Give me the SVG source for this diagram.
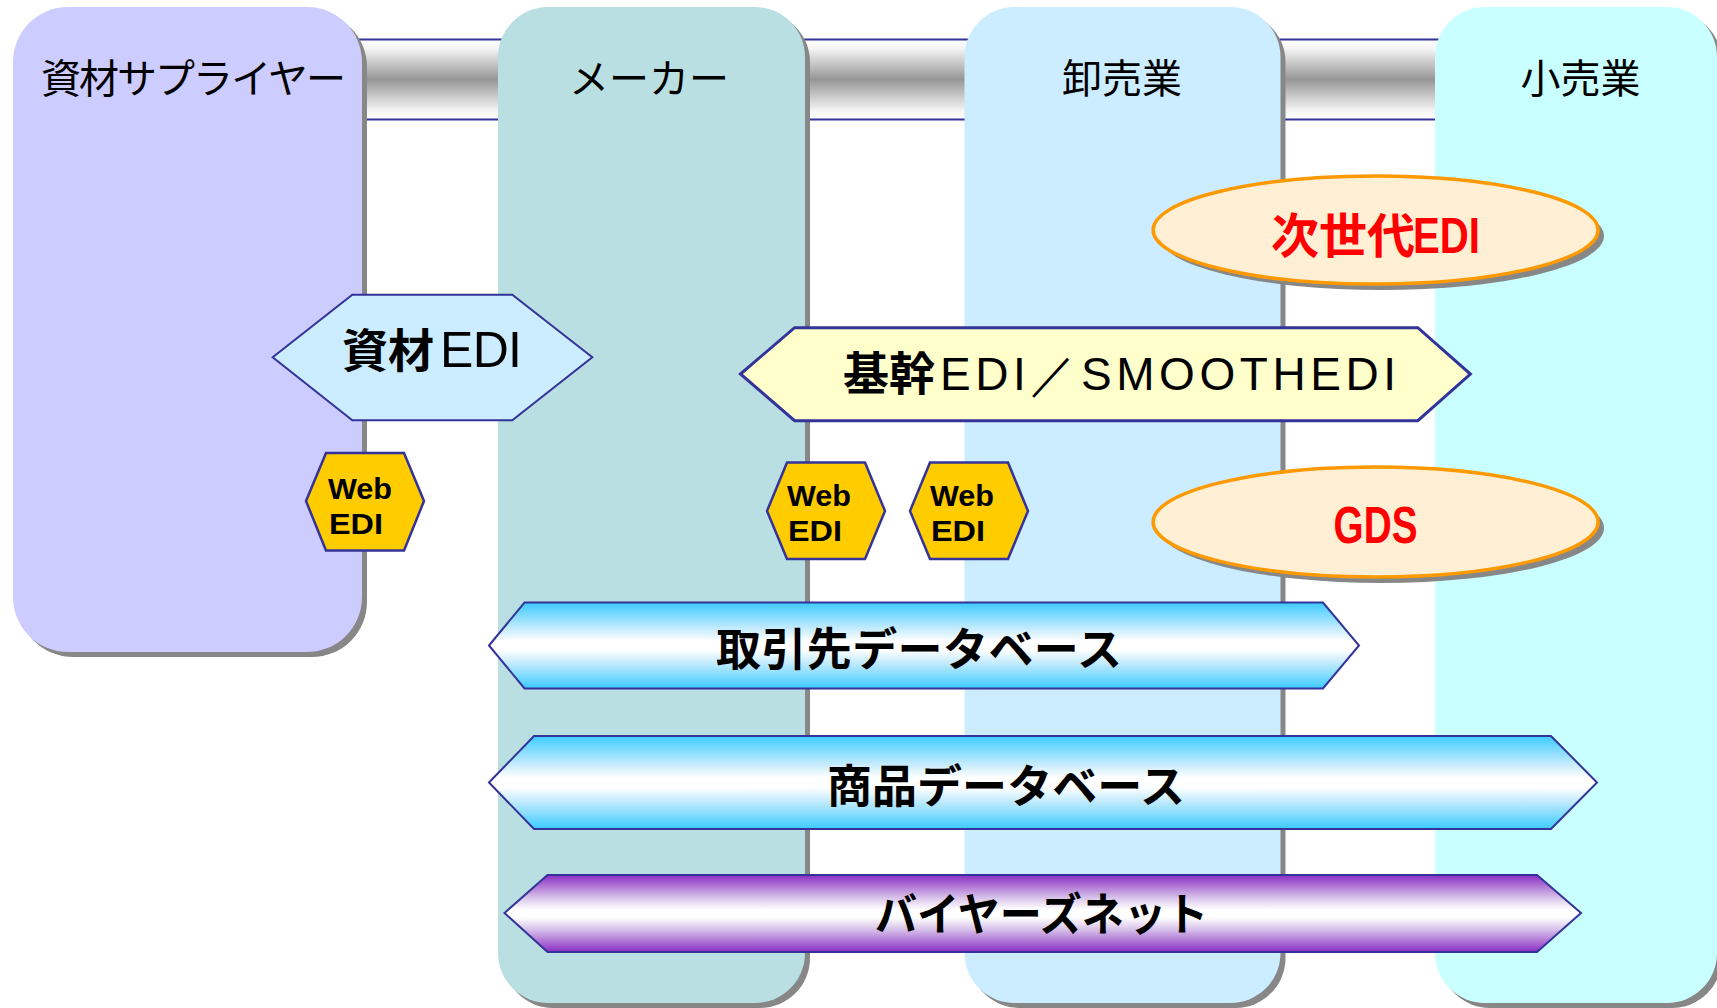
<svg xmlns="http://www.w3.org/2000/svg" width="1717" height="1008" viewBox="0 0 1717 1008">
<defs>
<linearGradient id="gBar" x1="0" y1="0" x2="0" y2="1">
<stop offset="0" stop-color="#ffffff"/><stop offset="0.12" stop-color="#f4f4f4"/><stop offset="0.5" stop-color="#969696"/><stop offset="0.88" stop-color="#f4f4f4"/><stop offset="1" stop-color="#ffffff"/>
</linearGradient>
<linearGradient id="gBlue" x1="0" y1="0" x2="0" y2="1">
<stop offset="0" stop-color="#3CCBFF"/><stop offset="0.3" stop-color="#C4EBFD"/><stop offset="0.45" stop-color="#ffffff"/><stop offset="0.55" stop-color="#ffffff"/><stop offset="0.7" stop-color="#C4EBFD"/><stop offset="1" stop-color="#3CCBFF"/>
</linearGradient>
<linearGradient id="gPurple" x1="0" y1="0" x2="0" y2="1">
<stop offset="0" stop-color="#8A2EC4"/><stop offset="0.3" stop-color="#D9C4EA"/><stop offset="0.45" stop-color="#ffffff"/><stop offset="0.55" stop-color="#ffffff"/><stop offset="0.7" stop-color="#D9C4EA"/><stop offset="1" stop-color="#8A2EC4"/>
</linearGradient>
</defs>
<style>
.shadow{fill:#878787}
.hdr{font-family:"Noto Sans CJK JP",sans-serif;font-size:40px;fill:#000;text-anchor:middle}
.hex{stroke:#333399;stroke-width:2}
.web{fill:#FFCC00;stroke:#333399;stroke-width:2.5}
.webt{font-family:"Liberation Sans",Arial,sans-serif;font-weight:bold;font-size:30px;fill:#000}
.ell{fill:#FFF0D5;stroke:#FF9900;stroke-width:3.5}
.red{fill:#FF0000;font-weight:bold}
.cjkb{font-family:"Noto Sans CJK JP",sans-serif;font-weight:bold}
.lat{font-family:"Liberation Sans",Arial,sans-serif}
.db{stroke:#333399;stroke-width:2}
.dbt{font-family:"Noto Sans CJK JP",sans-serif;font-weight:bold;font-size:45px;fill:#000}
</style>

<g id="bar">
<rect x="300" y="39" width="1200" height="81" fill="url(#gBar)"/>
<line x1="300" y1="39.5" x2="1500" y2="39.5" stroke="#333399" stroke-width="2"/>
<line x1="300" y1="119.5" x2="1500" y2="119.5" stroke="#333399" stroke-width="2"/>
</g>

<g id="col-supplier">
<rect class="shadow" x="18" y="12" width="349" height="645" rx="55"/>
<rect x="13" y="7" width="349" height="645" rx="55" fill="#CCCCFF"/>
<text class="hdr" x="41" y="93" font-size="39" style="text-anchor:start" textLength="305">資材サプライヤー</text>
</g>
<g id="col-maker">
<rect class="shadow" x="503" y="12" width="307" height="996" rx="50"/>
<rect x="498" y="7" width="307" height="996" rx="50" fill="#B9DFE3"/>
<text class="hdr" x="649" y="93" font-size="38">メーカー</text>
</g>
<g id="col-wholesale">
<rect class="shadow" x="969.5" y="12" width="316" height="996" rx="50"/>
<rect x="964.5" y="7" width="316" height="996" rx="50" fill="#CCECFF"/>
<text class="hdr" x="1122" y="93" font-size="41">卸売業</text>
</g>
<g id="col-retail">
<rect class="shadow" x="1440" y="12" width="282" height="996" rx="50"/>
<rect x="1435" y="7" width="282" height="996" rx="50" fill="#C9FFFF"/>
<text class="hdr" x="1580.5" y="93" font-size="41">小売業</text>
</g>

<g id="connectors"></g>

<g id="next-edi">
<ellipse class="shadow" cx="1381.5" cy="236" rx="222.5" ry="54"/>
<ellipse class="ell" cx="1375.6" cy="230" rx="222.5" ry="54"/>
<text class="cjkb red" x="1271" y="253" font-size="48">次世代</text>
<text class="lat red" x="1413" y="253" font-size="50" textLength="67" lengthAdjust="spacingAndGlyphs">EDI</text>
</g>

<g id="shizai-edi">
<polygon class="hex" fill="#CCECFF" points="272.7,357.3 352.3,294.7 512.3,294.7 592.3,357.3 512.3,420.3 352.3,420.3"/>
<text class="cjkb" x="342" y="367" font-size="46" fill="#000">資材</text>
<text class="lat" x="440" y="367" font-size="50" fill="#000" textLength="82">EDI</text>
</g>

<g id="kikan-edi">
<polygon class="hex" style="stroke-width:3" fill="#FFFFCC" points="740.5,374 794.6,327.7 1417.8,327.7 1470.4,374 1417.8,420.7 794.6,420.7"/>
<text class="cjkb" x="843" y="390" font-size="46" fill="#000">基幹</text>
<text class="lat" x="940" y="390" font-size="46" fill="#000" textLength="456">EDI／SMOOTHEDI</text>
</g>

<g id="webedi-1">
<polygon class="web" points="306,501 326,453 404,453 424,501 404,550.5 326,550.5"/>
<text class="webt" x="328" y="499" textLength="64" lengthAdjust="spacingAndGlyphs">Web</text>
<text class="webt" x="329" y="534" textLength="54" lengthAdjust="spacingAndGlyphs">EDI</text>
</g>
<g id="webedi-2">
<polygon class="web" points="767,511 787,462.5 865,462.5 885,511 865,559 787,559"/>
<text class="webt" x="787" y="506" textLength="64" lengthAdjust="spacingAndGlyphs">Web</text>
<text class="webt" x="788" y="540.5" textLength="54" lengthAdjust="spacingAndGlyphs">EDI</text>
</g>
<g id="webedi-3">
<polygon class="web" points="910,511 930,462.5 1008,462.5 1028,511 1008,559 930,559"/>
<text class="webt" x="930" y="506" textLength="64" lengthAdjust="spacingAndGlyphs">Web</text>
<text class="webt" x="931" y="540.5" textLength="54" lengthAdjust="spacingAndGlyphs">EDI</text>
</g>

<g id="gds">
<ellipse class="shadow" cx="1381.5" cy="528" rx="222.5" ry="55"/>
<ellipse class="ell" cx="1375.6" cy="522" rx="222.5" ry="55"/>
<text class="lat red" x="1333.5" y="543" font-size="51" textLength="84" lengthAdjust="spacingAndGlyphs">GDS</text>
</g>

<g id="partner-db">
<polygon class="db" fill="url(#gBlue)" points="489,645.5 524.5,602.5 1323,602.5 1359,645.5 1323,688.5 524.5,688.5"/>
<text class="dbt" x="716" y="666" textLength="406">取引先データベース</text>
</g>
<g id="product-db">
<polygon class="db" fill="url(#gBlue)" points="489,782.5 534,736 1551,736 1597,782.5 1551,829 534,829"/>
<text class="dbt" x="827" y="803" textLength="358">商品データベース</text>
</g>
<g id="buyers-net">
<polygon class="db" fill="url(#gPurple)" points="504.5,913 547.5,875 1537,875 1581,913 1537,952 547.5,952"/>
<text class="dbt" x="875" y="931" font-size="44" textLength="333" lengthAdjust="spacingAndGlyphs">バイヤーズネット</text>
</g>
</svg>
